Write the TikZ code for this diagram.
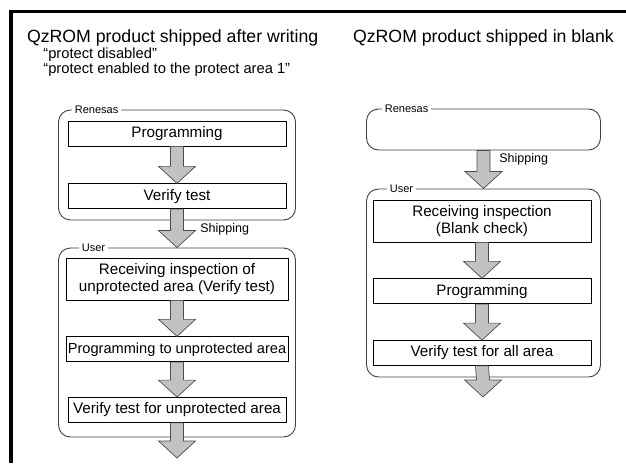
\documentclass[tikz,border=0pt]{standalone}
\usepackage{fontspec}
\setmainfont{Liberation Sans}
\usetikzlibrary{positioning,calc}
\definecolor{flowfill}{gray}{0.76}
\definecolor{flowedge}{gray}{0.30}
\definecolor{groupedge}{gray}{0.25}
\tikzset{every picture/.style={line width=0.75pt}}
\tikzset{
  stepbox/.style={draw, fill=white, minimum width=218pt, minimum height=25pt,
    inner sep=1pt, align=center, font=\fontsize{15.2}{16.5}\selectfont},
  groupbox/.style={draw=groupedge, line width=0.9pt, rounded corners=12pt},
  grouplabel/.style={fill=white, inner sep=2.5pt, anchor=west,
    font=\fontsize{11}{12}\selectfont},
  shiplabel/.style={anchor=west, inner sep=0pt, font=\fontsize{12.5}{14}\selectfont},
  headline/.style={anchor=base west, inner sep=0pt, font=\fontsize{17.7}{20}\selectfont},
  subline/.style={anchor=base west, inner sep=0pt, font=\fontsize{14.7}{16}\selectfont},
  flow/.style={draw=flowedge, fill=flowfill, line width=0.7pt},
}
% fat arrow from #1 down to the tip #2
\newcommand{\flowarrow}[2]{%
  \path[flow] ($(#1)+(-6.5pt,0)$) -- ($(#2)+(-6.5pt,17pt)$) -- ($(#2)+(-18.5pt,17pt)$)
    -- (#2) -- ($(#2)+(18.5pt,17pt)$) -- ($(#2)+(6.5pt,17pt)$) -- ($(#1)+(6.5pt,0)$) -- cycle;
}

\begin{document}
\begin{tikzpicture}[x=1pt, y=-1pt, node distance=36pt]
    \useasboundingbox (0,0) rectangle (626,463);
    % page frame
    \draw[line width=3.2pt, line join=miter] (11,463) -- (11,11.7) -- (626,11.7);

    % left: written before shipping
    \node[headline] (titleL) at (26.7,42.7) {QzROM product shipped after writing};
    \node[subline] (subA) at (43,58.5) {“protect disabled”};
    \node[subline] (subB) at (43,73.5) {“protect enabled to the protect area 1”};

    \node[groupbox, minimum width=237pt, minimum height=110pt] (renesasL) at (177,165) {};
    \node[grouplabel] at ($(renesasL.north west)+(14pt,0)$) {Renesas};
    \node[stepbox] (progL) at (177,133.5) {Programming};
    \node[stepbox, below=37pt of progL] (verL) {Verify test};

    \node[groupbox, minimum width=237pt, minimum height=189pt] (userL) at (177,342.5) {};
    \node[grouplabel] at ($(userL.north west)+(21pt,0)$) {User};
    \node[stepbox, minimum width=222pt, minimum height=42pt] (recvL) at (177,279)
        {Receiving inspection of\\unprotected area (Verify test)};
    \node[stepbox, minimum width=222pt, below=36pt of recvL, font=\fontsize{14.6}{16}\selectfont] (progUL)
        {Programming to unprotected area};
    \node[stepbox, below=35pt of progUL] (verUL) {Verify test for unprotected area};
    \coordinate (endL) at (177,458);

    \flowarrow{progL.south}{verL.north}
    \flowarrow{verL.south}{userL.north}
    \node[shiplabel] at (200,229) {Shipping};
    \flowarrow{recvL.south}{progUL.north}
    \flowarrow{progUL.south}{verUL.north}
    \flowarrow{verUL.south}{endL}

    % right: shipped in blank
    \node[headline] (titleR) at (352.7,42.7) {QzROM product shipped in blank};

    \node[groupbox, minimum width=234pt, minimum height=41pt] (renesasR) at (483.5,129.5) {};
    \node[grouplabel] at ($(renesasR.north west)+(16pt,0)$) {Renesas};

    \node[groupbox, minimum width=234pt, minimum height=188pt] (userR) at (483.5,283) {};
    \node[grouplabel] at ($(userR.north west)+(21pt,0)$) {User};
    \node[stepbox, minimum height=42pt] (recvR) at (482,221)
        {Receiving inspection\\(Blank check)};
    \node[stepbox, below=of recvR] (progR) {Programming};
    \node[stepbox, below=of progR] (verR) {Verify test for all area};
    \coordinate (endR) at (483,397);

    \flowarrow{renesasR.south}{userR.north}
    \node[shiplabel] at (499,159) {Shipping};
    \flowarrow{recvR.south}{progR.north}
    \flowarrow{progR.south}{verR.north}
    \flowarrow{verR.south}{endR}
\end{tikzpicture}
\end{document}
